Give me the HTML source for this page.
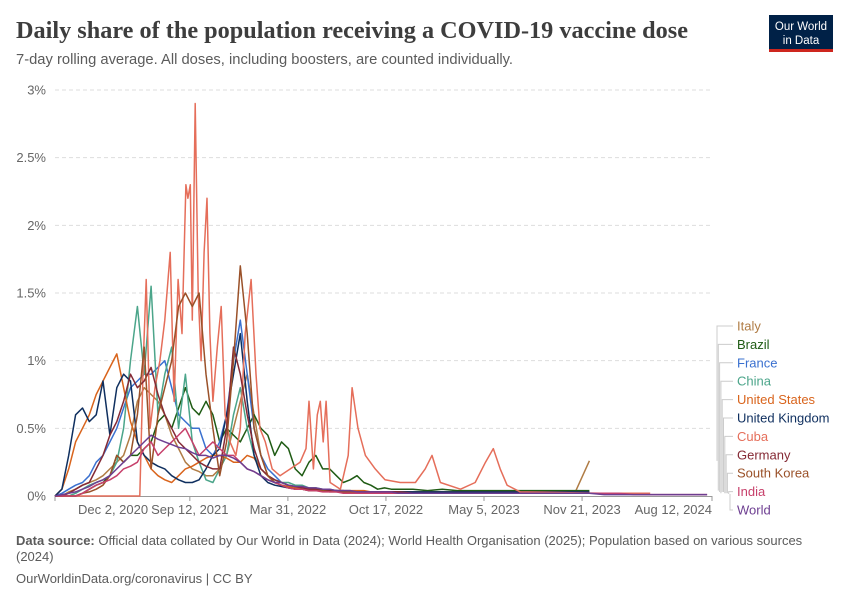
<!DOCTYPE html>
<html><head><meta charset="utf-8"><style>
body{margin:0;background:#fff;}
svg{display:block;font-family:"Liberation Sans",sans-serif;}
</style></head><body>
<svg id="chart" width="850" height="600" viewBox="0 0 850 600">
<text x="16" y="38" font-family="Liberation Serif,serif" font-weight="bold" font-size="24" fill="#3d3d3d" textLength="672" lengthAdjust="spacingAndGlyphs">Daily share of the population receiving a COVID-19 vaccine dose</text>
<text x="16" y="64" font-size="14.5" fill="#5b5b5b" textLength="497" lengthAdjust="spacingAndGlyphs">7-day rolling average. All doses, including boosters, are counted individually.</text>
<g>
<rect x="769" y="15" width="64" height="36" fill="#002147"/>
<rect x="769" y="49" width="64" height="3" fill="#ce261e"/>
<text x="801" y="30" font-size="11.5" fill="#fff" text-anchor="middle">Our World</text>
<text x="801" y="44" font-size="11.5" fill="#fff" text-anchor="middle">in Data</text>
</g>
<g id="grid"></g>
<g id="yticks"></g>
<g id="xticks"></g>
<g id="lines"></g>
<g id="legend"></g>
<text x="16" y="545" font-size="13" fill="#5b5b5b"><tspan font-weight="bold">Data source:</tspan> Official data collated by Our World in Data (2024); World Health Organisation (2025); Population based on various sources</text>
<text x="16" y="561" font-size="13" fill="#5b5b5b">(2024)</text>
<text x="16" y="583" font-size="13" fill="#5b5b5b">OurWorldinData.org/coronavirus | CC BY</text>
</svg>
<script>
const yTicks=[0,0.5,1,1.5,2,2.5,3];
const yTickLabels=["0%","0.5%","1%","1.5%","2%","2.5%","3%"];
const xTickDays=[0,275,475,675,875,1075,1340];
const xTickLabels=["Dec 2, 2020","Sep 12, 2021","Mar 31, 2022","Oct 17, 2022","May 5, 2023","Nov 21, 2023","Aug 12, 2024"];
const gridDays=[0,14,28,42,56,70,84,98,112,126,140,154,168,182,196,210,224,238,252,266,280,294,308,322,336,350,364,378,392,406,420,434,448,462,476,490,504,518,532,546,560,574,588,602,616,630,644,658,672,686,700,730,760,790,820,850,880,910,940,970,1000,1030,1060,1090,1120,1150,1180,1210,1240,1270,1300,1330];
const italy=[0,0,0.03,0.05,0.08,0.1,0.12,0.15,0.2,0.25,0.3,0.45,0.7,0.8,0.75,0.7,0.6,0.45,0.35,0.25,0.2,0.18,0.15,0.15,0.2,0.3,0.5,0.7,0.9,0.6,0.3,0.15,0.1,0.08,0.07,0.06,0.05,0.05,0.05,0.04,0.04,0.04,0.03,0.03,0.03,0.03,0.03,0.03,0.02,0.02,0.02,0.02,0.02,0.02,0.02,0.02,0.02,0.02,0.02,0.02,0.02,0.02,0.02,0.26];
const brazil=[0,0,0,0,0.02,0.05,0.08,0.1,0.15,0.3,0.25,0.3,0.3,0.35,0.4,0.55,0.6,0.5,0.65,0.8,0.65,0.6,0.7,0.6,0.4,0.5,0.45,0.4,0.5,0.6,0.5,0.45,0.3,0.4,0.35,0.2,0.15,0.25,0.3,0.2,0.2,0.15,0.1,0.12,0.15,0.1,0.08,0.05,0.06,0.05,0.05,0.05,0.04,0.05,0.04,0.04,0.04,0.04,0.04,0.04,0.04,0.04,0.04,0.04];
const france=[0,0.02,0.05,0.08,0.1,0.15,0.25,0.3,0.4,0.5,0.65,0.8,0.85,0.9,0.9,0.95,1.0,0.8,0.6,0.55,0.5,0.5,0.35,0.3,0.4,0.6,1.0,1.3,0.9,0.5,0.3,0.2,0.15,0.1,0.08,0.07,0.06,0.05,0.05,0.05,0.04,0.04,0.04,0.04,0.03,0.03,0.03,0.03,0.03,0.03,0.03,0.03,0.03,0.03,0.02,0.02,0.02,0.02,0.02,0.02,0.03,0.03,0.03,0.03];
const china=[0,0,0,0.02,0.05,0.08,0.1,0.12,0.15,0.25,0.5,1.0,1.4,0.9,1.55,0.6,0.9,1.1,0.5,0.9,0.4,0.25,0.12,0.1,0.2,0.3,0.6,0.8,0.5,0.3,0.2,0.15,0.12,0.1,0.1,0.08,0.08,0.06,0.06,0.05,0.05,0.04,0.04,0.03,0.03,0.03,0.02,0.02,0.02,0.02,0.02,0.02,0.02,0.02,0.02,0.02,0.02,0.02,0.02,0.02,0.02,0.02,0.02,0.02];
const us=[0,0.05,0.2,0.4,0.5,0.6,0.75,0.85,0.95,1.05,0.8,0.55,0.4,0.3,0.2,0.15,0.12,0.1,0.15,0.2,0.22,0.25,0.28,0.3,0.3,0.28,0.25,0.25,0.3,0.28,0.2,0.15,0.1,0.08,0.07,0.06,0.06,0.05,0.05,0.05,0.04,0.04,0.04,0.04,0.04,0.04,0.03,0.03,0.03,0.03,0.03,0.03,0.03,0.03,0.03,0.03,0.03,0.03,0.03,0.03,0.03,0.03,0.03,0.03];
const uk=[0,0.05,0.3,0.6,0.65,0.55,0.6,0.85,0.45,0.8,0.9,0.85,0.4,0.3,0.25,0.22,0.2,0.15,0.12,0.1,0.1,0.12,0.2,0.3,0.35,0.6,0.9,1.2,0.7,0.3,0.15,0.1,0.08,0.07,0.06,0.05,0.05,0.04,0.04,0.04,0.04,0.04,0.03,0.03,0.03,0.03,0.03,0.03,0.03,0.03,0.03,0.03,0.03,0.03,0.03,0.03,0.03,0.03,0.03,0.03,0.03,0.03,0.03,0.03];
const germany=[0,0,0.02,0.05,0.08,0.1,0.2,0.3,0.45,0.55,0.7,0.9,0.8,0.85,0.95,0.75,0.6,0.5,0.4,0.35,0.3,0.25,0.22,0.2,0.2,0.5,1.1,0.9,0.6,0.35,0.2,0.15,0.12,0.1,0.08,0.07,0.06,0.05,0.05,0.05,0.04,0.04,0.04,0.03,0.03,0.03,0.03,0.03,0.03,0.03,0.03,0.02,0.02,0.02,0.02,0.02,0.02,0.02,0.02,0.02,0.02,0.02,0.02,0.02];
const southKorea=[0,0,0,0,0.02,0.03,0.05,0.08,0.15,0.3,0.25,0.3,0.6,1.1,0.2,0.6,0.8,1.0,1.4,1.5,1.4,1.5,0.9,0.5,0.15,0.4,1.0,1.7,1.2,0.5,0.3,0.15,0.1,0.08,0.06,0.05,0.05,0.04,0.04,0.04,0.03,0.03,0.03,0.03,0.03,0.03,0.02,0.02,0.02,0.02,0.02,0.02,0.02,0.02,0.02,0.02,0.02,0.02,0.02,0.02,0.02,0.02,0.02,0.02];
const india=[0,0,0,0,0.02,0.05,0.08,0.1,0.12,0.15,0.2,0.22,0.25,0.35,0.4,0.3,0.35,0.4,0.45,0.5,0.4,0.3,0.35,0.4,0.35,0.3,0.3,0.25,0.2,0.18,0.15,0.12,0.1,0.08,0.06,0.05,0.05,0.04,0.04,0.03,0.03,0.03,0.02,0.02,0.02,0.02,0.02,0.02,0.02,0.02,0.02,0.02,0.02,0.02,0.02,0.02,0.02,0.02,0.02,0.02,0.02,0.02,0.02,0.02,0.02,0.02,0.01,0.01,0.01,0.01,0.01,0.01];
const world=[0,0.01,0.02,0.03,0.05,0.07,0.1,0.12,0.15,0.2,0.25,0.3,0.35,0.4,0.45,0.42,0.4,0.38,0.36,0.35,0.32,0.3,0.3,0.28,0.3,0.3,0.28,0.25,0.2,0.18,0.15,0.12,0.1,0.1,0.08,0.07,0.07,0.06,0.06,0.05,0.05,0.04,0.04,0.04,0.03,0.03,0.03,0.03,0.03,0.03,0.02,0.02,0.02,0.02,0.02,0.02,0.02,0.02,0.02,0.02,0.02,0.02,0.02,0.02,0.01,0.01,0.01,0.01,0.01,0.01,0.01,0.01];
const cubaDays=[0,173,180,186,194,204,214,224,235,243,251,259,267,271,276,280,286,292,298,304,310,316,322,331,339,347,357,369,378,388,400,410,418,429,443,459,480,500,512,518,527,535,541,547,553,561,582,598,606,618,633,653,673,704,735,755,769,786,827,857,878,894,908,922,949,1112,1214];
const cuba=[0,0,1.0,1.6,0.5,0.8,1.0,1.3,1.8,0.7,1.6,1.2,2.3,2.2,2.3,1.3,2.9,1.5,1.0,1.8,2.2,1.2,0.7,1.1,1.4,0.6,0.4,0.3,0.5,1.2,1.6,0.9,0.5,0.4,0.2,0.15,0.2,0.25,0.35,0.7,0.2,0.6,0.7,0.4,0.7,0.1,0.05,0.3,0.8,0.5,0.3,0.2,0.12,0.1,0.1,0.2,0.3,0.1,0.05,0.1,0.25,0.35,0.2,0.08,0.03,0.02,0.02];

const series=[
 {name:"Italy",color:"#b07c45",days:gridDays,values:italy},
 {name:"Brazil",color:"#1f5b14",days:gridDays,values:brazil},
 {name:"France",color:"#3a70cf",days:gridDays,values:france},
 {name:"China",color:"#4ba58a",days:gridDays,values:china},
 {name:"United States",color:"#d9641c",days:gridDays,values:us},
 {name:"United Kingdom",color:"#0f2f5f",days:gridDays,values:uk},
 {name:"Cuba",color:"#e56e5a",days:cubaDays,values:cuba},
 {name:"Germany",color:"#852a35",days:gridDays,values:germany},
 {name:"South Korea",color:"#9a5129",days:gridDays,values:southKorea},
 {name:"India",color:"#c7406b",days:gridDays,values:india},
 {name:"World",color:"#6d3e91",days:gridDays,values:world}
];
const X0=55,X1=712,Y0=496,Y1=90,DMAX=1340,VMAX=3;
const xs=d=>X0+(X1-X0)*d/DMAX;
const ys=v=>Y0-(Y0-Y1)*v/VMAX;
const NS="http://www.w3.org/2000/svg";
function mk(tag,attrs,parent){const e=document.createElementNS(NS,tag);for(const k in attrs)e.setAttribute(k,attrs[k]);parent.appendChild(e);return e;}
const grid=document.getElementById('grid'),yt=document.getElementById('yticks'),xt=document.getElementById('xticks'),lines=document.getElementById('lines'),leg=document.getElementById('legend');
yTicks.forEach((v,i)=>{
 if(v>0){const l=mk('line',{x1:X0,x2:X1,y1:ys(v),y2:ys(v),stroke:'#dddddd','stroke-dasharray':'4,3'},grid);
 
 }
 const t=mk('text',{x:46,y:ys(v)+4.5,'text-anchor':'end','font-size':13,fill:'#666'},yt);
 t.textContent=yTickLabels[i];
 
 
});
mk('line',{x1:X0,x2:X1,y1:Y0+0.5,y2:Y0+0.5,stroke:'#999'},xt);
xTickDays.forEach((d,i)=>{
 const x=xs(d);
 mk('line',{x1:x,x2:x,y1:Y0,y2:Y0+5,stroke:'#999'},xt);
 const anchor=i==0?'start':(i==xTickDays.length-1?'end':'middle');
 const t=mk('text',{x:i==0?78:(i==xTickDays.length-1?X1:x),y:514,'text-anchor':anchor,'font-size':13,fill:'#666'},xt);
 t.textContent=xTickLabels[i];
 
 
});
series.forEach((s,si)=>{
 let d='';
 s.values.forEach((v,i)=>{d+=(i?'L':'M')+xs(s.days[i]).toFixed(1)+','+ys(v).toFixed(1);});
 const p=mk('path',{d:d,fill:'none',stroke:s.color,'stroke-width':1.5,'stroke-linejoin':'round'},lines);
 
 
 const ly=326+si*18.4;
 const lastY=ys(s.values[s.values.length-1]);
 const bx=717+si*1.3;
 mk('path',{d:'M'+bx+','+Math.min(lastY,494)+'V'+ly+'H733',fill:'none',stroke:'#ccc','stroke-width':1},leg);
 const t=mk('text',{x:737,y:ly+4.5,'font-size':13,fill:s.color},leg);
 t.textContent=s.name;
 
 
});
</script>
</body></html>
